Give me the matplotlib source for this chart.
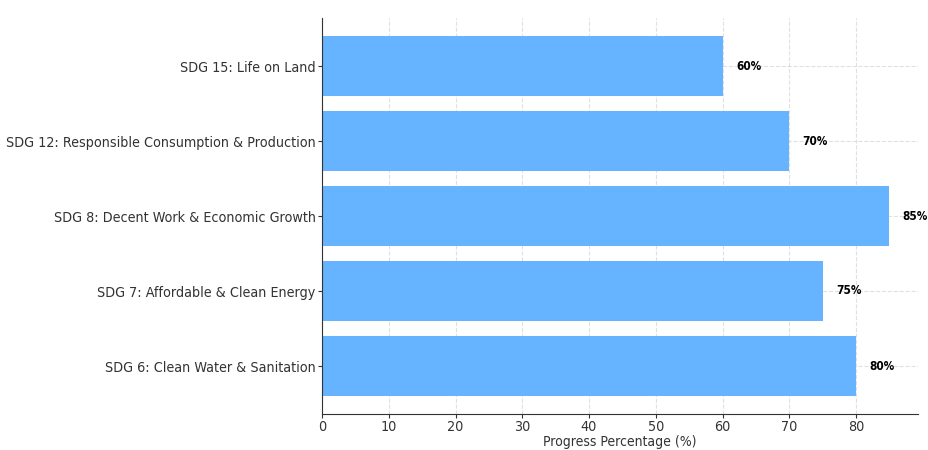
import matplotlib
matplotlib.use('Agg')
import matplotlib.pyplot as plt

goals = ["SDG 6: Clean Water & Sanitation",
         "SDG 7: Affordable & Clean Energy",
         "SDG 8: Decent Work & Economic Growth",
         "SDG 12: Responsible Consumption & Production",
         "SDG 15: Life on Land"]
progress = [80, 75, 85, 70, 60]

plt.rcParams['font.family'] = 'DejaVu Sans'
plt.rcParams['font.stretch'] = 'condensed'
plt.rcParams['text.color'] = '#333333'
plt.rcParams['axes.labelcolor'] = '#333333'
plt.rcParams['xtick.color'] = '#333333'
plt.rcParams['ytick.color'] = '#333333'

fig = plt.figure(figsize=(9.29, 4.5), dpi=100)
ax = fig.add_axes([0.3466, 0.08, 0.6414, 0.88])

bars = ax.barh(goals, progress, color='#66b3ff', height=0.8, zorder=2)

# percentage next to each bar
for bar, val in zip(bars, progress):
    ax.text(val + 2, bar.get_y() + bar.get_height() / 2, f"{val}%",
            va='center', ha='left', fontsize=8.5, fontweight='bold', color='black')

ax.set_xlabel("Progress Percentage (%)", fontsize=10, labelpad=1)
ax.tick_params(axis='y', labelsize=10.3, length=3, pad=1.5)
ax.tick_params(axis='x', labelsize=10.3, length=3, pad=1)
ax.grid(True, linestyle='--', color='lightgray', alpha=0.7, zorder=0)
ax.spines['top'].set_visible(False)
ax.spines['right'].set_visible(False)
ax.spines['left'].set_color('#333333')
ax.spines['bottom'].set_color('#333333')

plt.savefig("out.png", dpi=100)
